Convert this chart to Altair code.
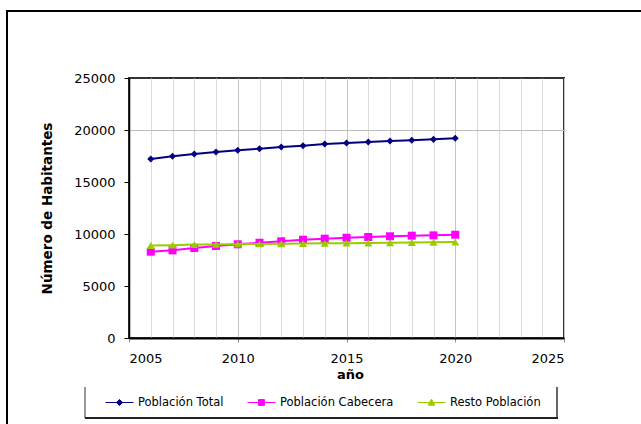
import altair as alt
import pandas as pd

# Population projection by year
years = list(range(2006, 2021))
total = [17210, 17470, 17690, 17880, 18050, 18200, 18360, 18490, 18650, 18750,
         18850, 18940, 19010, 19100, 19200]
cabecera = [8300, 8430, 8650, 8850, 9010, 9160, 9300, 9450, 9550, 9640,
            9710, 9780, 9840, 9870, 9930]
resto = [8900, 8930, 8980, 9000, 9030, 9050, 9070, 9080, 9100, 9120,
         9140, 9160, 9180, 9200, 9220]

series = ["Población Total", "Población Cabecera", "Resto Población"]
colors = ["#000080", "#FF00FF", "#99CC00"]
marker_shapes = ["diamond", "square", "triangle-up"]
marker_sizes = [50, 64, 64]
# legend keys: a short line with the marker in the middle
legend_shapes = [
    "M-1,0H1M0,-0.22L0.22,0L0,0.22L-0.22,0Z",
    "M-1,0H1M-0.21,-0.21H0.21V0.21H-0.21Z",
    "M-1,0H1M0,-0.24L0.24,0.19H-0.24Z",
]
x_ticks = [2005, 2010, 2015, 2020, 2025]
x_minor = list(range(2005, 2026))
y_ticks = [0, 5000, 10000, 15000, 20000, 25000]

FONT = "DejaVu Sans"

rows = []
for name, vals in zip(series, [total, cabecera, resto]):
    for yr, v in zip(years, vals):
        rows.append({"anio": yr, "valor": v, "serie": name})
df = pd.DataFrame(rows)

xscale = alt.Scale(domain=[2005, 2025], nice=False, zero=False)
yscale = alt.Scale(domain=[0, 25000], nice=False)

no_axis_x = alt.X("anio:Q", scale=xscale, axis=None)
no_axis_y = alt.Y("valor:Q", scale=yscale, axis=None)

# yearly vertical grid + single horizontal grid line
grid_layer = alt.Chart(df).mark_point(opacity=0).encode(
    x=alt.X("anio:Q", scale=xscale,
            axis=alt.Axis(values=x_minor, grid=True, gridColor="#dadada", gridWidth=1,
                          labels=False, ticks=False, domain=False, title=None,
                          orient="bottom")),
    y=alt.Y("valor:Q", scale=yscale,
            axis=alt.Axis(values=[20000], grid=True, gridColor="#bdbdbd", gridWidth=1,
                          labels=False, ticks=False, domain=False, title=None,
                          orient="left")),
)

# labelled axes
axis_layer = alt.Chart(df).mark_point(opacity=0).encode(
    x=alt.X("anio:Q", scale=xscale,
            axis=alt.Axis(values=x_ticks, format="d", grid=True, gridColor="#c4c4c4",
                          tickSize=4, tickColor="#8c8c8c", tickWidth=1,
                          labelPadding=10, labelFont=FONT, labelFontSize=13,
                          labelColor="black", domainColor="black", domainWidth=2,
                          title="año", titleFont=FONT, titleFontSize=13,
                          titleFontWeight="bold", titleColor="black",
                          titleX=221, titleY=36, titleBaseline="middle",
                          orient="bottom")),
    y=alt.Y("valor:Q", scale=yscale,
            axis=alt.Axis(values=y_ticks, format="d", grid=False,
                          tickSize=5, tickColor="black", tickWidth=1,
                          labelPadding=9, labelFont=FONT, labelFontSize=13,
                          labelColor="black", domainColor="black", domainWidth=1.5,
                          title="Número de Habitantes", titleFont=FONT,
                          titleFontSize=13.5, titleFontWeight="bold",
                          titleColor="black", titleAngle=-90, titleAlign="center",
                          titleBaseline="middle", titleX=-82, titleY=130,
                          orient="left")),
)

series_layers = []
for name, col, shp, sz in zip(series, colors, marker_shapes, marker_sizes):
    base = alt.Chart(df).transform_filter(alt.datum.serie == name)
    series_layers.append(
        base.mark_line(color=col, strokeWidth=2).encode(x=no_axis_x, y=no_axis_y)
    )
    series_layers.append(
        base.mark_point(filled=True, color=col, shape=shp, size=sz, opacity=1)
        .encode(x=no_axis_x, y=no_axis_y)
    )

leg = alt.Legend(orient="none", legendX=-24, legendY=310, direction="horizontal",
                 title=None, symbolSize=784, symbolStrokeWidth=1,
                 labelFont=FONT, labelFontSize=11.5, labelColor="black",
                 labelOffset=4, columnPadding=21, padding=0, labelLimit=300)

legend_layer = alt.Chart(df).transform_filter("false").mark_point(
    filled=True, opacity=1, strokeWidth=1
).encode(
    fill=alt.Fill("serie:N", scale=alt.Scale(domain=series, range=colors), legend=leg),
    stroke=alt.Stroke("serie:N", scale=alt.Scale(domain=series, range=colors), legend=leg),
    shape=alt.Shape("serie:N", scale=alt.Scale(domain=series, range=legend_shapes), legend=leg),
)

one = pd.DataFrame({"k": [0]})

# outer chart frame
frame = alt.Chart(one).mark_rect(fill="transparent", stroke="black", strokeWidth=2).encode(
    x=alt.value(-122), x2=alt.value(700), y=alt.value(-67), y2=alt.value(500)
)

# legend box edges
box_left = alt.Chart(one).mark_rule(color="#333333", strokeWidth=1).encode(
    x=alt.value(-44), y=alt.value(309), y2=alt.value(340))
box_right = alt.Chart(one).mark_rule(color="#333333", strokeWidth=1.5).encode(
    x=alt.value(428), y=alt.value(309), y2=alt.value(340))
box_bottom = alt.Chart(one).mark_rule(color="#222222", strokeWidth=2).encode(
    x=alt.value(-44), x2=alt.value(429), y=alt.value(340))

chart = alt.layer(
    frame, box_left, box_right, box_bottom,
    grid_layer, axis_layer, *series_layers, legend_layer
).resolve_axis(
    x="independent", y="independent"
).properties(
    width=435, height=260,
    autosize=alt.AutoSizeParams(type="none"),
    padding={"left": 129, "top": 78, "right": 77, "bottom": 86},
    background="white",
).configure_view(
    stroke="#333333", strokeWidth=2
)

chart.save("out.html", embed_options={"renderer": "svg", "actions": False})
